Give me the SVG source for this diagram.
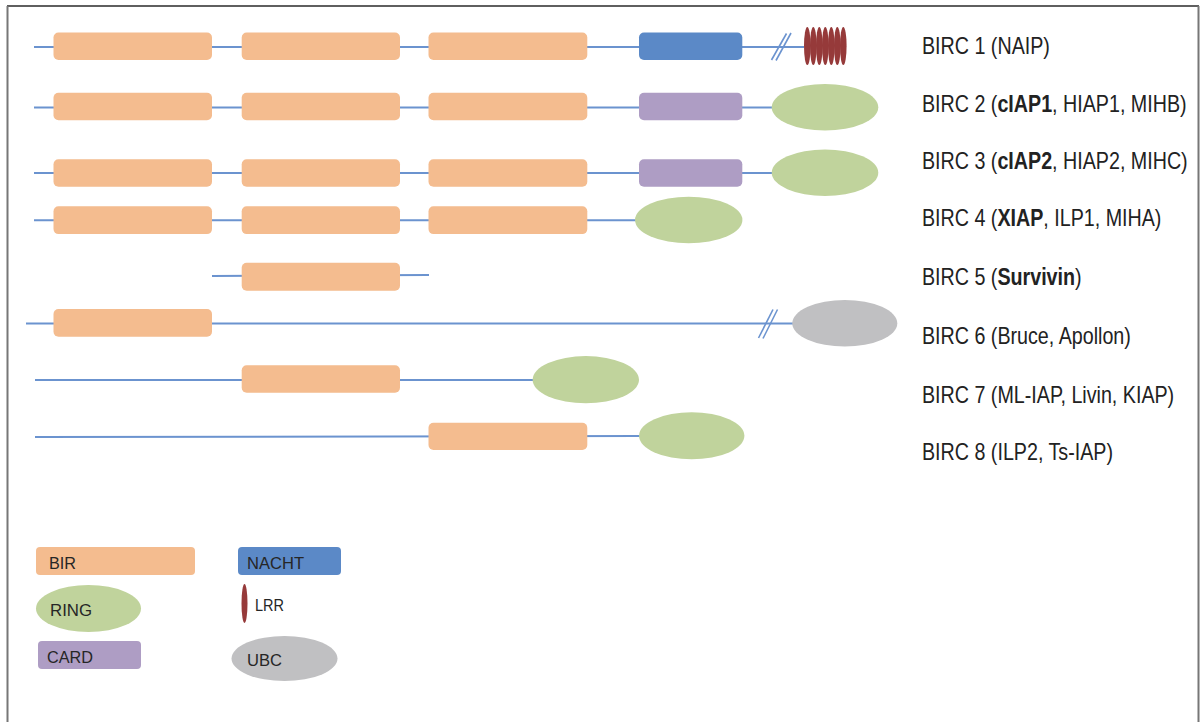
<svg xmlns="http://www.w3.org/2000/svg" width="1201" height="722" viewBox="0 0 1201 722">
  <style>
    .bb { stroke: #6b93cf; stroke-width: 2; fill: none; }
    .brk { stroke: #6b93cf; stroke-width: 1.6; fill: none; }
    .bir { fill: #f4bc8f; }
    .nacht { fill: #5b89c7; }
    .card { fill: #ae9dc4; }
    .ring { fill: #c0d39c; }
    .ubc { fill: #c0c0c2; }
    .lrr { fill: #963a3a; }
    .lbl { font-family: "Liberation Sans", Arial, sans-serif; font-size: 23px; fill: #222; }
    .lbl .b { font-weight: bold; }
    .key { font-family: "Liberation Sans", Arial, sans-serif; font-size: 17px; fill: #262626; }
  </style>

  <!-- frame -->
  <rect width="1201" height="722" fill="#fff"/>
  <line x1="7" y1="6" x2="1199" y2="6" stroke="#2a2a2a" stroke-width="1.5"/>
  <line x1="7.5" y1="6" x2="7.5" y2="722" stroke="#777" stroke-width="2"/>
  <line x1="1198.5" y1="6" x2="1198.5" y2="722" stroke="#777" stroke-width="2"/>

  <!-- backbone lines -->
  <g id="connectors">
    <line class="bb" x1="34" y1="47" x2="804" y2="47"/>
    <line class="brk" x1="771.5" y1="60" x2="786.5" y2="33.5"/>
    <line class="brk" x1="776" y1="60.5" x2="791" y2="33"/>
    <line class="bb" x1="34" y1="107.5" x2="772" y2="107.5"/>
    <line class="bb" x1="34" y1="173" x2="772" y2="173"/>
    <line class="bb" x1="34" y1="220.3" x2="636" y2="220.3"/>
    <line class="bb" x1="212" y1="276" x2="429" y2="275"/>
    <line class="bb" x1="26" y1="323.5" x2="793" y2="323.5"/>
    <line class="brk" x1="758.5" y1="338" x2="773" y2="309.5"/>
    <line class="brk" x1="763" y1="338.5" x2="777.5" y2="309.5"/>
    <line class="bb" x1="35" y1="380" x2="533" y2="380"/>
    <line class="bb" x1="35" y1="437" x2="640" y2="436"/>
  </g>

  <!-- BIRC 1 -->
  <g id="birc1">
    <rect class="bir" x="53.5" y="32.5" width="158.5" height="27.5" rx="5"/>
    <rect class="bir" x="241.7" y="32.5" width="158.3" height="27.5" rx="5"/>
    <rect class="bir" x="428.5" y="32.5" width="158.8" height="27.5" rx="5"/>
    <rect class="nacht" x="639" y="32.5" width="103.3" height="27.5" rx="5"/>
    <g class="lrr">
      <ellipse cx="807.3" cy="46" rx="3.3" ry="19"/>
      <ellipse cx="813.3" cy="46" rx="3.3" ry="19"/>
      <ellipse cx="819.3" cy="46" rx="3.3" ry="19"/>
      <ellipse cx="825.3" cy="46" rx="3.3" ry="19"/>
      <ellipse cx="831.3" cy="46" rx="3.3" ry="19"/>
      <ellipse cx="837.3" cy="46" rx="3.3" ry="19"/>
      <ellipse cx="843.3" cy="46" rx="3.3" ry="19"/>
    </g>
    <text class="lbl" transform="translate(922 54) scale(0.856 1)">BIRC 1 (NAIP)</text>
  </g>

  <!-- BIRC 2 -->
  <g id="birc2">
    <rect class="bir" x="53.5" y="92.7" width="158.5" height="27.5" rx="5"/>
    <rect class="bir" x="241.7" y="92.7" width="158.3" height="27.5" rx="5"/>
    <rect class="bir" x="428.5" y="92.7" width="158.8" height="27.5" rx="5"/>
    <rect class="card" x="639" y="92.7" width="103.3" height="27.5" rx="5"/>
    <ellipse class="ring" cx="825" cy="107.3" rx="53.3" ry="23.3"/>
    <text class="lbl" transform="translate(922 112) scale(0.856 1)">BIRC 2 (<tspan class="b">cIAP1</tspan>, HIAP1, MIHB)</text>
  </g>

  <!-- BIRC 3 -->
  <g id="birc3">
    <rect class="bir" x="53.5" y="159.3" width="158.5" height="27.5" rx="5"/>
    <rect class="bir" x="241.7" y="159.3" width="158.3" height="27.5" rx="5"/>
    <rect class="bir" x="428.5" y="159.3" width="158.8" height="27.5" rx="5"/>
    <rect class="card" x="639" y="159.3" width="103.3" height="27.5" rx="5"/>
    <ellipse class="ring" cx="825" cy="172.7" rx="53.3" ry="23.3"/>
    <text class="lbl" transform="translate(922 169) scale(0.856 1)">BIRC 3 (<tspan class="b">cIAP2</tspan>, HIAP2, MIHC)</text>
  </g>

  <!-- BIRC 4 -->
  <g id="birc4">
    <rect class="bir" x="53.5" y="206.3" width="158.5" height="27.8" rx="5"/>
    <rect class="bir" x="241.7" y="206.3" width="158.3" height="27.8" rx="5"/>
    <rect class="bir" x="428.5" y="206.3" width="158.8" height="27.8" rx="5"/>
    <ellipse class="ring" cx="688.7" cy="220" rx="53.7" ry="23.3"/>
    <text class="lbl" transform="translate(922 226) scale(0.856 1)">BIRC 4 (<tspan class="b">XIAP</tspan>, ILP1, MIHA)</text>
  </g>

  <!-- BIRC 5 -->
  <g id="birc5">
    <rect class="bir" x="241.7" y="262.7" width="158.3" height="28" rx="5"/>
    <text class="lbl" transform="translate(922 285) scale(0.856 1)">BIRC 5 (<tspan class="b">Survivin</tspan>)</text>
  </g>

  <!-- BIRC 6 -->
  <g id="birc6">
    <rect class="bir" x="53.5" y="309" width="158.5" height="27.7" rx="5"/>
    <ellipse class="ubc" cx="844.8" cy="323.3" rx="52.5" ry="23.3"/>
    <text class="lbl" transform="translate(922 344) scale(0.856 1)">BIRC 6 (Bruce, Apollon)</text>
  </g>

  <!-- BIRC 7 -->
  <g id="birc7">
    <rect class="bir" x="241.7" y="365.3" width="158.3" height="27.4" rx="5"/>
    <ellipse class="ring" cx="585.8" cy="379.7" rx="53.2" ry="23.6"/>
    <text class="lbl" transform="translate(922 403) scale(0.856 1)">BIRC 7 (ML-IAP, Livin, KIAP)</text>
  </g>

  <!-- BIRC 8 -->
  <g id="birc8">
    <rect class="bir" x="428.5" y="422.7" width="158.8" height="27.3" rx="5"/>
    <ellipse class="ring" cx="691.7" cy="435.8" rx="52.7" ry="23.5"/>
    <text class="lbl" transform="translate(922 460) scale(0.856 1)">BIRC 8 (ILP2, Ts-IAP)</text>
  </g>

  <!-- legend -->
  <g id="legend-bir">
    <rect class="bir" x="36" y="547" width="159" height="28" rx="4"/>
    <text class="key" x="49" y="569" textLength="27" lengthAdjust="spacingAndGlyphs">BIR</text>
  </g>
  <g id="legend-ring">
    <ellipse class="ring" cx="88.5" cy="608.5" rx="52.5" ry="23.5"/>
    <text class="key" x="50" y="616" textLength="42" lengthAdjust="spacingAndGlyphs">RING</text>
  </g>
  <g id="legend-card">
    <rect class="card" x="38" y="641" width="103" height="28" rx="4"/>
    <text class="key" x="47" y="663" textLength="46" lengthAdjust="spacingAndGlyphs">CARD</text>
  </g>
  <g id="legend-nacht">
    <rect class="nacht" x="238" y="547" width="103" height="28" rx="4"/>
    <text class="key" x="247" y="569" textLength="57" lengthAdjust="spacingAndGlyphs">NACHT</text>
  </g>
  <g id="legend-lrr">
    <ellipse class="lrr" cx="244.5" cy="603.5" rx="3" ry="19.5"/>
    <text class="key" x="255" y="611" textLength="29" lengthAdjust="spacingAndGlyphs">LRR</text>
  </g>
  <g id="legend-ubc">
    <ellipse class="ubc" cx="284.5" cy="658.5" rx="53" ry="22.5"/>
    <text class="key" x="247" y="666" textLength="35" lengthAdjust="spacingAndGlyphs">UBC</text>
  </g>
</svg>
